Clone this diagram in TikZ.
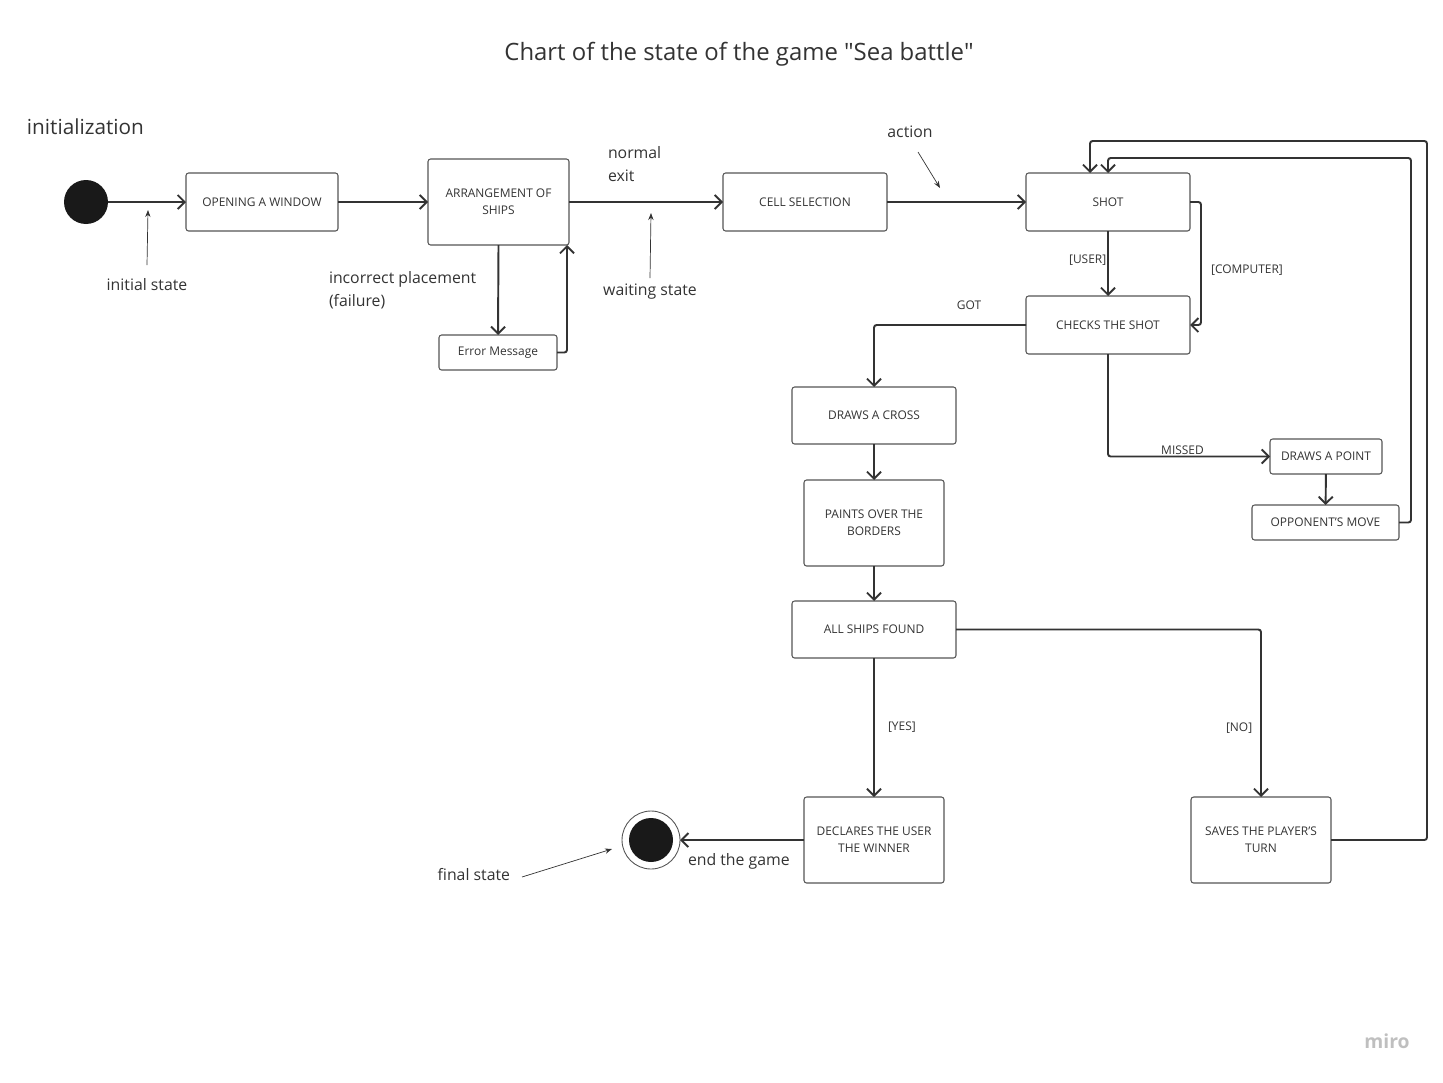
\documentclass[tikz,border=0pt]{standalone}
\usepackage{fontspec}
\setmainfont{Open Sans}
\usetikzlibrary{arrows.meta}
\definecolor{ink}{HTML}{333333}
\definecolor{edge}{HTML}{555555}
\tikzset{
    state/.style 2 args={draw=edge, line width=0.6pt, rounded corners=1.5pt, align=center, text=ink,
        font=\fontsize{6.8}{9.5}\selectfont, minimum width=#1*0.02cm, minimum height=#2*0.02cm, inner sep=1pt},
    flow/.style={draw=ink, line width=1.1pt, rounded corners=1.5pt, -{Straight Barb[length=4pt, width=8pt]}},
    note/.style={draw=ink, line width=0.4pt, -{Stealth[length=4pt, width=3pt]}},
    cond/.style={text=ink, font=\fontsize{6.8}{9}\selectfont, inner sep=1pt},
    remark/.style={text=ink, font=\fontsize{9}{13.5}\selectfont, align=left, inner sep=0pt}
}
\begin{document}
\begin{tikzpicture}[x=0.02cm, y=-0.02cm, outer sep=0]
    \useasboundingbox (0,0) rectangle (1443,1082);
    \node[text=ink, font=\fontsize{13.6}{16}\selectfont] (title) at (739,54) {Chart of the state of the game \textquotedbl Sea battle\textquotedbl};
    \node[text=ink, font=\fontsize{11.8}{14}\selectfont, anchor=west, inner sep=0pt] (initlabel) at (27,127) {initialization};
    \node[circle, fill=black!90, minimum size=0.88cm, inner sep=0pt] (start) at (86,202) {};
    \node[state={152}{58}] (window) at (262,202) {OPENING A WINDOW};
    \node[state={141}{86}] (arrange) at (498.5,202) {ARRANGEMENT OF\\SHIPS};
    \node[state={118}{35}] (error) at (498,352.5) {Error Message};
    \node[state={164}{58}] (cell) at (805,202) {CELL SELECTION};
    \node[state={164}{58}] (shot) at (1108,202) {SHOT};
    \node[state={164}{58}] (check) at (1108,325) {CHECKS THE SHOT};
    \node[state={164}{57}] (cross) at (874,415.5) {DRAWS A CROSS};
    \node[state={140}{86}] (paint) at (874,523) {PAINTS OVER THE\\BORDERS};
    \node[state={164}{57}] (found) at (874,629.5) {ALL SHIPS FOUND};
    \node[state={112}{35}] (point) at (1326,456.5) {DRAWS A POINT};
    \node[state={147}{35}] (opponent) at (1325.5,522.5) {OPPONENT'S MOVE};
    \node[state={140}{86}] (winner) at (874,840) {DECLARES THE USER\\THE WINNER};
    \node[state={140}{86}] (save) at (1261,840) {SAVES THE PLAYER'S\\TURN};
    \node[circle, draw=edge, line width=0.5pt, minimum size=1.16cm, inner sep=0pt] (final) at (651,840) {};
    \fill[black!90] (final.center) circle (0.44cm);
    \coordinate (loopa) at (1411,158);
    \coordinate (loopb) at (1427,141);
    \coordinate (tipinit) at (148,210);
    \coordinate (tipwait) at (651,213);
    \coordinate (tipaction) at (940,188);
    \coordinate (tipfinal) at (612,849);
    \node[remark, anchor=north] (initstate) at (147,278) {initial state};
    \node[remark, anchor=north west] (failure) at (329,271) {incorrect placement\\(failure)};
    \node[remark, anchor=north west] (normal) at (608,146) {normal\\exit};
    \node[remark, anchor=north] (waiting) at (650,284) {waiting state};
    \node[remark, anchor=south] (action) at (910,138) {action};
    \node[remark, anchor=east] (finalstate) at (510,875) {final state};
    \node[remark, anchor=west] (endgame) at (688,861) {end the game};
    \draw[flow] (start) -- (window);
    \draw[flow] (window) -- (arrange);
    \draw[flow] (arrange) -- (cell);
    \draw[flow] (cell) -- (shot);
    \draw[flow] (arrange.south) -- (error.north);
    \draw[flow] (error.east) -| ([xshift=-0.04cm]arrange.south east);
    \draw[flow] (shot) -- node[cond, left, pos=0.45] {[USER]} (check);
    \draw[flow] (shot.east) -- ++(11,0) |- (check.east);
    \node[cond] (computer) at (1247,270) {[COMPUTER]};
    \node[cond] (got) at (969,305) {GOT};
    \draw[flow] (check.west) -| (cross.north);
    \draw[flow] (check.south) |- node[cond, above, pos=0.73] {MISSED} (point.west);
    \draw[flow] (point) -- (opponent);
    \draw[flow] (opponent.east) -| (loopa) -| (shot.north);
    \draw[flow] (save.east) -| (loopb) -| ([xshift=-0.36cm]shot.north);
    \draw[flow] (cross) -- (paint);
    \draw[flow] (paint) -- (found);
    \draw[flow] (found) -- node[cond, right, pos=0.5, xshift=7pt] {[YES]} (winner);
    \draw[flow] (found.east) -| node[cond, left, pos=0.795, xshift=-4pt] {[NO]} (save.north);
    \draw[flow] (winner) -- (final);
    \draw[note] (initstate.north) ++(0,-13) -- (tipinit);
    \draw[note] (waiting.north) ++(0,-6) -- (tipwait);
    \draw[note] (action.south) ++(8,14) -- (tipaction);
    \draw[note] (finalstate.east) ++(12,2) -- (tipfinal);
    \node[text=black!25, font=\fontsize{11}{13}\selectfont\bfseries] (miro) at (1387,1041) {miro};
\end{tikzpicture}
\end{document}
